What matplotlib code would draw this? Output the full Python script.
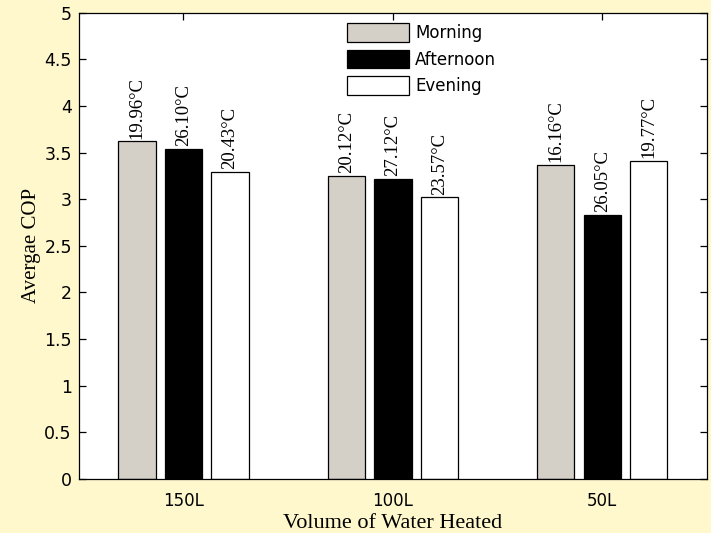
import numpy as np
import matplotlib.pyplot as plt

# COP per tank volume and time of day, with inlet temperature tags
volumes = ["150L", "100L", "50L"]
periods = ["Morning", "Afternoon", "Evening"]
cop_morning = [3.62, 3.25, 3.37]
cop_afternoon = [3.54, 3.22, 2.83]
cop_evening = [3.29, 3.02, 3.41]
temp_morning = ["19.96\u00b0C", "20.12\u00b0C", "16.16\u00b0C"]
temp_afternoon = ["26.10\u00b0C", "27.12\u00b0C", "26.05\u00b0C"]
temp_evening = ["20.43\u00b0C", "23.57\u00b0C", "19.77\u00b0C"]

fill_colors = ["#D4D0C8", "black", "white"]
bg = "#FFF8CD"

fig = plt.figure(figsize=(7.11, 5.33), dpi=100, facecolor=bg)
ax = fig.add_axes([0.1107, 0.1013, 0.8837, 0.8749])

x = np.arange(1, len(volumes) + 1)
offset = 0.222
width = 0.178
series = [(cop_morning, temp_morning), (cop_afternoon, temp_afternoon), (cop_evening, temp_evening)]
for i, (vals, temps) in enumerate(series):
    pos = x + (i - 1) * offset
    ax.bar(pos, vals, width, color=fill_colors[i], edgecolor="black",
           linewidth=0.9, label=periods[i])
    for px, v, t in zip(pos, vals, temps):
        ax.text(px, v + 0.03, t, rotation=90, ha="center", va="bottom",
                family="Liberation Serif", fontsize=13.5)

ax.set_xlim(0.5, 3.5)
ax.set_ylim(0, 5)
ax.set_xticks(x)
ax.set_xticklabels(volumes)
ax.set_yticks(np.arange(0, 5.01, 0.5))
ax.set_yticklabels(["0", "0.5", "1", "1.5", "2", "2.5", "3", "3.5", "4", "4.5", "5"])
ax.tick_params(direction="in", length=5, width=0.9, top=True, right=True,
               labelsize=12.5)
ax.tick_params(axis="x", labelsize=12, pad=9)
ax.tick_params(axis="y", pad=5)
for lbl in ax.get_xticklabels() + ax.get_yticklabels():
    lbl.set_family("DejaVu Sans")
for s in ax.spines.values():
    s.set_linewidth(0.9)

ax.set_xlabel("Volume of Water Heated", family="Liberation Serif", fontsize=16, labelpad=3)
ax.set_ylabel("Avergae COP", family="Liberation Serif", fontsize=15, labelpad=2)

ax.legend(loc="upper left", bbox_to_anchor=(0.412, 0.997), frameon=False,
          prop={"family": "DejaVu Sans", "size": 12},
          handlelength=3.75, handleheight=1.35, handletextpad=0.35,
          labelspacing=0.45, borderaxespad=0.15)

fig.savefig("out.png", dpi=100, facecolor=bg)
